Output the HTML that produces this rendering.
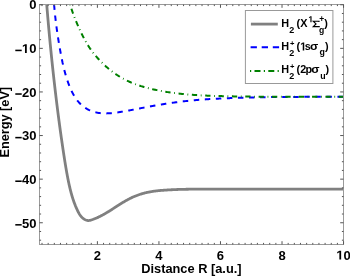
<!DOCTYPE html>
<html><head><meta charset="utf-8"><style>html,body{margin:0;padding:0;background:#fff;width:350px;height:276px;overflow:hidden}svg{display:block;will-change:transform}</style></head>
<body>
<svg width="350" height="276" viewBox="0 0 350 276">
<defs><clipPath id="c"><rect x="39.5" y="4.5" width="304.0" height="240.0"/></clipPath></defs>
<rect width="350" height="276" fill="#fff"/>
<g clip-path="url(#c)" fill="none" stroke-linejoin="round">
<path d="M46.13,-3.00 L46.19,-2.30 L46.24,-1.61 L46.30,-0.91 L46.35,-0.21 L46.41,0.49 L46.46,1.19 L46.52,1.89 L46.57,2.59 L46.63,3.29 L46.69,3.99 L46.74,4.69 L46.80,5.39 L46.86,6.08 L46.91,6.78 L46.97,7.48 L47.03,8.18 L47.09,8.88 L47.14,9.58 L47.20,10.28 L47.26,10.98 L47.32,11.68 L47.38,12.38 L47.44,13.07 L47.49,13.77 L47.55,14.47 L47.61,15.17 L47.67,15.87 L47.73,16.57 L47.79,17.27 L47.85,17.97 L47.91,18.66 L47.97,19.36 L48.03,20.06 L48.10,20.76 L48.16,21.46 L48.22,22.16 L48.28,22.86 L48.34,23.56 L48.40,24.25 L48.47,24.95 L48.53,25.65 L48.59,26.35 L48.65,27.05 L48.72,27.75 L48.78,28.45 L48.84,29.14 L48.91,29.84 L48.97,30.54 L49.03,31.24 L49.10,31.94 L49.16,32.64 L49.23,33.33 L49.29,34.03 L49.36,34.73 L49.42,35.43 L49.49,36.13 L49.55,36.83 L49.62,37.52 L49.68,38.22 L49.75,38.92 L49.82,39.62 L49.88,40.32 L49.95,41.02 L50.02,41.71 L50.08,42.41 L50.15,43.11 L50.22,43.81 L50.29,44.51 L50.36,45.20 L50.42,45.90 L50.49,46.60 L50.56,47.30 L50.63,48.00 L50.70,48.69 L50.77,49.39 L50.84,50.09 L50.91,50.79 L50.98,51.49 L51.05,52.18 L51.12,52.88 L51.19,53.58 L51.26,54.28 L51.33,54.97 L51.40,55.67 L51.47,56.37 L51.54,57.07 L51.62,57.76 L51.69,58.46 L51.76,59.16 L51.83,59.86 L51.90,60.56 L51.98,61.25 L52.05,61.95 L52.12,62.65 L52.20,63.35 L52.27,64.04 L52.34,64.74 L52.42,65.44 L52.49,66.14 L52.57,66.83 L52.64,67.53 L52.72,68.23 L52.79,68.92 L52.87,69.62 L52.94,70.32 L53.02,71.02 L53.09,71.71 L53.17,72.41 L53.25,73.11 L53.32,73.81 L53.40,74.50 L53.48,75.20 L53.55,75.90 L53.63,76.59 L53.71,77.29 L53.79,77.99 L53.86,78.68 L53.94,79.38 L54.02,80.08 L54.10,80.78 L54.18,81.47 L54.26,82.17 L54.34,82.87 L54.42,83.56 L54.50,84.26 L54.58,84.96 L54.66,85.65 L54.74,86.35 L54.82,87.05 L54.90,87.74 L54.98,88.44 L55.06,89.14 L55.14,89.83 L55.22,90.53 L55.31,91.23 L55.39,91.92 L55.47,92.62 L55.55,93.32 L55.64,94.01 L55.72,94.71 L55.80,95.41 L55.89,96.10 L55.97,96.80 L56.05,97.49 L56.14,98.19 L56.22,98.89 L56.31,99.58 L56.39,100.28 L56.48,100.98 L56.56,101.67 L56.65,102.37 L56.73,103.06 L56.82,103.76 L56.91,104.46 L56.99,105.15 L57.08,105.85 L57.17,106.54 L57.25,107.24 L57.34,107.94 L57.43,108.63 L57.52,109.33 L57.60,110.02 L57.69,110.72 L57.78,111.41 L57.87,112.11 L57.96,112.81 L58.05,113.50 L58.14,114.20 L58.23,114.89 L58.32,115.59 L58.41,116.28 L58.50,116.98 L58.59,117.67 L58.68,118.37 L58.77,119.07 L58.86,119.76 L58.95,120.46 L59.05,121.15 L59.14,121.85 L59.23,122.54 L59.32,123.24 L59.42,123.93 L59.51,124.63 L59.60,125.32 L59.70,126.02 L59.79,126.71 L59.89,127.41 L59.98,128.10 L60.08,128.80 L60.17,129.49 L60.27,130.19 L60.36,130.88 L60.46,131.58 L60.56,132.27 L60.65,132.97 L60.75,133.66 L60.85,134.35 L60.94,135.05 L61.04,135.74 L61.14,136.44 L61.24,137.13 L61.34,137.83 L61.44,138.52 L61.54,139.22 L61.64,139.91 L61.73,140.60 L61.84,141.30 L61.94,141.99 L62.04,142.69 L62.14,143.38 L62.24,144.07 L62.34,144.77 L62.44,145.46 L62.54,146.16 L62.65,146.85 L62.75,147.54 L62.85,148.24 L62.96,148.93 L63.06,149.63 L63.16,150.32 L63.27,151.01 L63.37,151.71 L63.48,152.40 L63.58,153.09 L63.69,153.79 L63.79,154.48 L63.90,155.17 L64.01,155.87 L64.11,156.56 L64.22,157.25 L64.33,157.95 L64.44,158.64 L64.54,159.33 L64.65,160.02 L64.76,160.72 L64.87,161.41 L64.98,162.10 L65.09,162.79 L65.21,163.49 L65.32,164.18 L65.43,164.87 L65.55,165.56 L65.66,166.26 L65.78,166.95 L65.89,167.64 L66.01,168.33 L66.13,169.02 L66.25,169.71 L66.37,170.40 L66.49,171.09 L66.61,171.78 L66.73,172.48 L66.86,173.17 L66.98,173.86 L67.11,174.55 L67.24,175.23 L67.37,175.92 L67.50,176.61 L67.63,177.30 L67.76,177.99 L67.90,178.68 L68.04,179.37 L68.17,180.05 L68.31,180.74 L68.45,181.43 L68.59,182.12 L68.74,182.80 L68.89,183.49 L69.03,184.17 L69.18,184.86 L69.34,185.54 L69.49,186.23 L69.65,186.91 L69.81,187.59 L69.97,188.28 L70.13,188.96 L70.30,189.64 L70.47,190.32 L70.64,191.00 L70.82,191.68 L71.00,192.36 L71.18,193.03 L71.37,193.71 L71.56,194.38 L71.75,195.06 L71.95,195.73 L72.15,196.40 L72.35,197.08 L72.56,197.75 L72.77,198.41 L72.99,199.08 L73.21,199.75 L73.43,200.41 L73.66,201.07 L73.89,201.74 L74.13,202.40 L74.37,203.05 L74.62,203.71 L74.87,204.37 L75.13,205.02 L75.39,205.67 L75.65,206.32 L75.93,206.96 L76.20,207.61 L76.48,208.25 L76.77,208.89 L77.06,209.53 L77.36,210.16 L77.66,210.80 L77.97,211.43 L78.29,212.05 L78.62,212.67 L78.96,213.28 L79.32,213.89 L79.69,214.48 L80.08,215.07 L80.49,215.63 L80.92,216.19 L81.38,216.72 L81.86,217.23 L82.36,217.72 L82.89,218.18 L83.44,218.61 L84.02,219.01 L84.62,219.38 L85.24,219.71 L85.88,219.99 L86.54,220.23 L87.21,220.41 L87.91,220.51 L88.61,220.54 L89.31,220.48 L90.00,220.36 L90.68,220.19 L91.35,219.99 L92.01,219.77 L92.68,219.54 L93.33,219.30 L93.99,219.05 L94.64,218.79 L95.29,218.53 L95.94,218.26 L96.58,217.98 L97.22,217.69 L97.86,217.40 L98.50,217.11 L99.13,216.80 L99.76,216.49 L100.39,216.18 L101.01,215.86 L101.63,215.53 L102.25,215.20 L102.87,214.87 L103.48,214.53 L104.09,214.19 L104.70,213.84 L105.31,213.49 L105.92,213.14 L106.52,212.78 L107.12,212.42 L107.72,212.06 L108.32,211.69 L108.92,211.32 L109.51,210.95 L110.11,210.58 L110.70,210.20 L111.29,209.83 L111.88,209.45 L112.47,209.07 L113.06,208.69 L113.65,208.31 L114.24,207.93 L114.83,207.55 L115.42,207.17 L116.01,206.79 L116.60,206.41 L117.19,206.03 L117.78,205.65 L118.37,205.28 L118.96,204.90 L119.55,204.52 L120.15,204.15 L120.74,203.78 L121.34,203.41 L121.94,203.04 L122.53,202.67 L123.13,202.31 L123.74,201.95 L124.34,201.60 L124.95,201.24 L125.55,200.89 L126.16,200.55 L126.78,200.20 L127.39,199.87 L128.01,199.53 L128.63,199.20 L129.25,198.88 L129.87,198.56 L130.50,198.25 L131.13,197.94 L131.77,197.64 L132.40,197.34 L133.04,197.06 L133.68,196.77 L134.33,196.50 L134.97,196.23 L135.62,195.96 L136.28,195.70 L136.93,195.45 L137.59,195.21 L138.25,194.97 L138.91,194.74 L139.57,194.51 L140.24,194.29 L140.91,194.08 L141.58,193.87 L142.25,193.67 L142.92,193.47 L143.60,193.29 L144.28,193.11 L144.96,192.93 L145.64,192.76 L146.32,192.60 L147.00,192.45 L147.69,192.30 L148.37,192.15 L149.06,192.02 L149.75,191.89 L150.44,191.76 L151.13,191.64 L151.83,191.53 L152.52,191.42 L153.21,191.32 L153.91,191.22 L154.60,191.12 L155.30,191.03 L155.99,190.95 L156.69,190.86 L157.39,190.79 L158.08,190.71 L158.78,190.64 L159.48,190.57 L160.18,190.51 L160.88,190.45 L161.58,190.39 L162.27,190.33 L162.97,190.28 L163.67,190.23 L164.37,190.18 L165.07,190.13 L165.77,190.08 L166.47,190.04 L167.17,190.00 L167.87,189.95 L168.57,189.91 L169.27,189.87 L169.97,189.84 L170.67,189.80 L171.37,189.76 L172.07,189.73 L172.77,189.70 L173.48,189.66 L174.18,189.63 L174.88,189.60 L175.58,189.58 L176.28,189.55 L176.98,189.52 L177.68,189.50 L178.38,189.47 L179.08,189.45 L179.78,189.43 L180.48,189.41 L181.19,189.39 L181.89,189.37 L182.59,189.35 L183.29,189.33 L183.99,189.32 L184.69,189.30 L185.39,189.28 L186.09,189.27 L186.79,189.26 L187.50,189.25 L188.20,189.23 L188.90,189.22 L189.60,189.21 L190.30,189.20 L191.00,189.20 L191.70,189.19 L192.40,189.18 L193.11,189.17 L193.81,189.17 L194.51,189.16 L195.21,189.16 L195.91,189.15 L196.61,189.15 L197.31,189.14 L198.02,189.14 L198.72,189.14 L199.42,189.14 L200.12,189.13 L200.82,189.13 L201.52,189.13 L202.22,189.13 L202.92,189.13 L203.63,189.13 L204.33,189.13 L205.03,189.13 L205.73,189.13 L206.43,189.13 L207.13,189.14 L207.83,189.14 L208.54,189.14 L209.24,189.14 L209.94,189.14 L210.64,189.15 L211.34,189.15 L212.04,189.15 L212.74,189.15 L213.45,189.15 L214.15,189.16 L214.85,189.16 L215.55,189.16 L216.25,189.16 L216.95,189.16 L217.65,189.17 L218.35,189.17 L219.06,189.17 L219.76,189.17 L220.46,189.17 L221.16,189.17 L221.86,189.18 L222.56,189.18 L223.26,189.18 L223.97,189.18 L224.67,189.18 L225.37,189.18 L226.07,189.18 L226.77,189.18 L227.47,189.18 L228.17,189.18 L228.87,189.18 L229.58,189.18 L230.28,189.18 L230.98,189.17 L231.68,189.17 L232.38,189.17 L233.08,189.17 L233.78,189.17 L234.49,189.17 L235.19,189.17 L235.89,189.17 L236.59,189.16 L237.29,189.16 L237.99,189.16 L238.69,189.16 L239.39,189.16 L240.10,189.15 L240.80,189.15 L241.50,189.15 L242.20,189.15 L242.90,189.15 L243.60,189.14 L244.30,189.14 L245.01,189.14 L245.71,189.14 L246.41,189.13 L247.11,189.13 L247.81,189.13 L248.51,189.13 L249.21,189.12 L249.92,189.12 L250.62,189.12 L251.32,189.12 L252.02,189.12 L252.72,189.11 L253.42,189.11 L254.12,189.11 L254.82,189.11 L255.53,189.11 L256.23,189.10 L256.93,189.10 L257.63,189.10 L258.33,189.10 L259.03,189.10 L259.73,189.09 L260.44,189.09 L261.14,189.09 L261.84,189.09 L262.54,189.09 L263.24,189.09 L263.94,189.09 L264.64,189.08 L265.34,189.08 L266.05,189.08 L266.75,189.08 L267.45,189.08 L268.15,189.08 L268.85,189.08 L269.55,189.08 L270.25,189.08 L270.96,189.08 L271.66,189.08 L272.36,189.08 L273.06,189.08 L273.76,189.08 L274.46,189.08 L275.16,189.08 L275.86,189.08 L276.57,189.08 L277.27,189.08 L277.97,189.08 L278.67,189.08 L279.37,189.08 L280.07,189.08 L280.77,189.08 L281.48,189.08 L282.18,189.08 L282.88,189.08 L283.58,189.08 L284.28,189.08 L284.98,189.08 L285.68,189.08 L286.39,189.08 L287.09,189.08 L287.79,189.08 L288.49,189.08 L289.19,189.08 L289.89,189.08 L290.59,189.08 L291.29,189.09 L292.00,189.09 L292.70,189.09 L293.40,189.09 L294.10,189.09 L294.80,189.09 L295.50,189.09 L296.20,189.09 L296.91,189.09 L297.61,189.09 L298.31,189.09 L299.01,189.09 L299.71,189.10 L300.41,189.10 L301.11,189.10 L301.81,189.10 L302.52,189.10 L303.22,189.10 L303.92,189.10 L304.62,189.10 L305.32,189.10 L306.02,189.10 L306.72,189.10 L307.43,189.11 L308.13,189.11 L308.83,189.11 L309.53,189.11 L310.23,189.11 L310.93,189.11 L311.63,189.11 L312.34,189.11 L313.04,189.11 L313.74,189.11 L314.44,189.11 L315.14,189.11 L315.84,189.11 L316.54,189.12 L317.24,189.12 L317.95,189.12 L318.65,189.12 L319.35,189.12 L320.05,189.12 L320.75,189.12 L321.45,189.12 L322.15,189.12 L322.86,189.12 L323.56,189.12 L324.26,189.12 L324.96,189.12 L325.66,189.12 L326.36,189.12 L327.06,189.12 L327.76,189.12 L328.47,189.12 L329.17,189.12 L329.87,189.12 L330.57,189.12 L331.27,189.12 L331.97,189.12 L332.67,189.12 L333.38,189.12 L334.08,189.12 L334.78,189.12 L335.48,189.11 L336.18,189.11 L336.88,189.11 L337.58,189.11 L338.29,189.11 L338.99,189.11 L339.69,189.11 L340.39,189.11 L341.09,189.11 L341.79,189.10 L342.49,189.10 L343.19,189.10 L343.90,189.10 L344.60,189.10 L345.30,189.10 L346.00,189.09" stroke="#808080" stroke-width="2.8"/>
<path d="M53.59,-2.99 L53.63,-2.29 L53.68,-1.59 L53.72,-0.89 L53.76,-0.19 L53.81,0.51 L53.86,1.21 L53.91,1.91 L53.96,2.61 L54.01,3.31 L54.06,4.01 L54.12,4.71 L54.17,5.41 L54.23,6.11 L54.29,6.81 L54.35,7.51 L54.41,8.21 L54.47,8.90 L54.53,9.60 L54.60,10.30 L54.66,11.00 L54.73,11.70 L54.80,12.40 L54.87,13.10 L54.94,13.79 L55.01,14.49 L55.08,15.19 L55.16,15.89 L55.23,16.58 L55.31,17.28 L55.39,17.98 L55.47,18.68 L55.55,19.37 L55.63,20.07 L55.71,20.77 L55.80,21.46 L55.88,22.16 L55.97,22.86 L56.05,23.55 L56.14,24.25 L56.23,24.95 L56.32,25.64 L56.41,26.34 L56.50,27.03 L56.60,27.73 L56.69,28.42 L56.79,29.12 L56.88,29.81 L56.98,30.51 L57.08,31.20 L57.18,31.90 L57.28,32.59 L57.38,33.29 L57.48,33.98 L57.58,34.68 L57.69,35.37 L57.79,36.06 L57.90,36.76 L58.01,37.45 L58.12,38.14 L58.23,38.84 L58.34,39.53 L58.45,40.22 L58.56,40.91 L58.67,41.61 L58.78,42.30 L58.90,42.99 L59.01,43.68 L59.13,44.38 L59.25,45.07 L59.37,45.76 L59.48,46.45 L59.60,47.14 L59.72,47.83 L59.85,48.53 L59.97,49.22 L60.09,49.91 L60.22,50.60 L60.34,51.29 L60.47,51.98 L60.59,52.67 L60.72,53.36 L60.85,54.05 L60.98,54.74 L61.11,55.43 L61.24,56.12 L61.37,56.81 L61.51,57.49 L61.64,58.18 L61.78,58.87 L61.92,59.56 L62.06,60.25 L62.21,60.93 L62.35,61.62 L62.50,62.31 L62.64,62.99 L62.80,63.68 L62.95,64.36 L63.10,65.05 L63.26,65.73 L63.42,66.41 L63.58,67.10 L63.75,67.78 L63.91,68.46 L64.08,69.14 L64.25,69.82 L64.43,70.50 L64.61,71.18 L64.79,71.86 L64.97,72.53 L65.16,73.21 L65.35,73.89 L65.54,74.56 L65.74,75.23 L65.94,75.91 L66.14,76.58 L66.34,77.25 L66.55,77.92 L66.77,78.59 L66.98,79.26 L67.20,79.92 L67.43,80.59 L67.65,81.25 L67.88,81.91 L68.12,82.58 L68.36,83.23 L68.60,83.89 L68.85,84.55 L69.10,85.21 L69.35,85.86 L69.61,86.51 L69.88,87.16 L70.15,87.81 L70.42,88.45 L70.70,89.10 L70.99,89.74 L71.28,90.37 L71.58,91.01 L71.89,91.64 L72.20,92.27 L72.52,92.89 L72.85,93.51 L73.18,94.13 L73.52,94.74 L73.87,95.35 L74.23,95.96 L74.60,96.55 L74.98,97.15 L75.36,97.73 L75.75,98.31 L76.16,98.89 L76.57,99.46 L76.99,100.02 L77.42,100.57 L77.86,101.12 L78.31,101.65 L78.77,102.18 L79.25,102.70 L79.73,103.21 L80.22,103.71 L80.72,104.20 L81.24,104.68 L81.76,105.15 L82.29,105.61 L82.83,106.05 L83.38,106.49 L83.94,106.91 L84.51,107.32 L85.09,107.72 L85.68,108.10 L86.27,108.48 L86.87,108.84 L87.48,109.18 L88.10,109.51 L88.73,109.83 L89.36,110.13 L90.00,110.42 L90.65,110.69 L91.30,110.95 L91.96,111.20 L92.62,111.43 L93.29,111.65 L93.96,111.85 L94.63,112.04 L95.31,112.22 L95.99,112.39 L96.68,112.54 L97.37,112.67 L98.06,112.80 L98.75,112.91 L99.45,113.01 L100.14,113.10 L100.84,113.17 L101.54,113.23 L102.24,113.29 L102.94,113.33 L103.64,113.36 L104.34,113.38 L105.04,113.39 L105.74,113.39 L106.45,113.39 L107.15,113.37 L107.85,113.35 L108.55,113.32 L109.25,113.28 L109.95,113.24 L110.65,113.19 L111.35,113.13 L112.05,113.06 L112.75,113.00 L113.44,112.92 L114.14,112.84 L114.84,112.76 L115.53,112.67 L116.23,112.58 L116.93,112.48 L117.62,112.39 L118.31,112.28 L119.01,112.18 L119.70,112.07 L120.39,111.96 L121.09,111.85 L121.78,111.74 L122.47,111.63 L123.16,111.51 L123.86,111.39 L124.55,111.27 L125.24,111.15 L125.93,111.03 L126.62,110.91 L127.31,110.78 L128.00,110.66 L128.69,110.53 L129.38,110.40 L130.07,110.27 L130.76,110.14 L131.45,110.01 L132.14,109.88 L132.83,109.75 L133.52,109.62 L134.21,109.48 L134.90,109.35 L135.58,109.22 L136.27,109.08 L136.96,108.95 L137.65,108.81 L138.34,108.68 L139.03,108.54 L139.72,108.41 L140.41,108.28 L141.09,108.14 L141.78,108.01 L142.47,107.88 L143.16,107.75 L143.85,107.61 L144.54,107.48 L145.23,107.35 L145.92,107.22 L146.61,107.09 L147.30,106.96 L147.99,106.84 L148.68,106.71 L149.37,106.58 L150.06,106.45 L150.75,106.33 L151.44,106.20 L152.13,106.08 L152.82,105.96 L153.51,105.83 L154.20,105.71 L154.89,105.59 L155.58,105.47 L156.28,105.35 L156.97,105.23 L157.66,105.11 L158.35,104.99 L159.04,104.87 L159.73,104.76 L160.43,104.64 L161.12,104.53 L161.81,104.41 L162.50,104.30 L163.20,104.19 L163.89,104.08 L164.58,103.97 L165.28,103.86 L165.97,103.75 L166.66,103.64 L167.36,103.53 L168.05,103.43 L168.74,103.32 L169.44,103.22 L170.13,103.12 L170.82,103.01 L171.52,102.91 L172.21,102.81 L172.91,102.71 L173.60,102.62 L174.30,102.52 L174.99,102.42 L175.69,102.33 L176.38,102.24 L177.08,102.14 L177.78,102.05 L178.47,101.96 L179.17,101.87 L179.86,101.78 L180.56,101.70 L181.26,101.61 L181.95,101.53 L182.65,101.44 L183.35,101.36 L184.04,101.28 L184.74,101.20 L185.44,101.12 L186.14,101.05 L186.83,100.97 L187.53,100.90 L188.23,100.82 L188.93,100.75 L189.62,100.68 L190.32,100.61 L191.02,100.54 L191.72,100.47 L192.42,100.41 L193.12,100.34 L193.82,100.28 L194.51,100.22 L195.21,100.15 L195.91,100.09 L196.61,100.03 L197.31,99.98 L198.01,99.92 L198.71,99.86 L199.41,99.81 L200.11,99.75 L200.81,99.70 L201.51,99.64 L202.21,99.59 L202.91,99.54 L203.61,99.49 L204.31,99.44 L205.01,99.39 L205.71,99.35 L206.41,99.30 L207.11,99.26 L207.81,99.21 L208.51,99.17 L209.21,99.12 L209.91,99.08 L210.61,99.04 L211.31,99.00 L212.01,98.96 L212.71,98.92 L213.41,98.88 L214.11,98.84 L214.81,98.80 L215.51,98.77 L216.21,98.73 L216.92,98.70 L217.62,98.66 L218.32,98.63 L219.02,98.59 L219.72,98.56 L220.42,98.53 L221.12,98.50 L221.82,98.47 L222.52,98.43 L223.22,98.40 L223.92,98.37 L224.63,98.34 L225.33,98.32 L226.03,98.29 L226.73,98.26 L227.43,98.23 L228.13,98.20 L228.83,98.18 L229.53,98.15 L230.23,98.12 L230.94,98.10 L231.64,98.07 L232.34,98.05 L233.04,98.02 L233.74,98.00 L234.44,97.97 L235.14,97.95 L235.84,97.93 L236.55,97.90 L237.25,97.88 L237.95,97.86 L238.65,97.84 L239.35,97.81 L240.05,97.79 L240.75,97.77 L241.46,97.75 L242.16,97.73 L242.86,97.71 L243.56,97.69 L244.26,97.67 L244.96,97.65 L245.66,97.63 L246.37,97.61 L247.07,97.59 L247.77,97.58 L248.47,97.56 L249.17,97.54 L249.87,97.52 L250.57,97.51 L251.28,97.49 L251.98,97.47 L252.68,97.46 L253.38,97.44 L254.08,97.42 L254.78,97.41 L255.48,97.39 L256.19,97.38 L256.89,97.36 L257.59,97.35 L258.29,97.34 L258.99,97.32 L259.69,97.31 L260.40,97.30 L261.10,97.28 L261.80,97.27 L262.50,97.26 L263.20,97.24 L263.90,97.23 L264.60,97.22 L265.31,97.21 L266.01,97.20 L266.71,97.19 L267.41,97.17 L268.11,97.16 L268.81,97.15 L269.52,97.14 L270.22,97.13 L270.92,97.12 L271.62,97.11 L272.32,97.10 L273.02,97.10 L273.73,97.09 L274.43,97.08 L275.13,97.07 L275.83,97.06 L276.53,97.05 L277.23,97.04 L277.94,97.04 L278.64,97.03 L279.34,97.02 L280.04,97.01 L280.74,97.01 L281.44,97.00 L282.15,96.99 L282.85,96.99 L283.55,96.98 L284.25,96.97 L284.95,96.97 L285.65,96.96 L286.36,96.96 L287.06,96.95 L287.76,96.94 L288.46,96.94 L289.16,96.93 L289.86,96.93 L290.57,96.92 L291.27,96.92 L291.97,96.91 L292.67,96.91 L293.37,96.91 L294.07,96.90 L294.78,96.90 L295.48,96.89 L296.18,96.89 L296.88,96.89 L297.58,96.88 L298.28,96.88 L298.99,96.88 L299.69,96.87 L300.39,96.87 L301.09,96.87 L301.79,96.86 L302.49,96.86 L303.20,96.86 L303.90,96.86 L304.60,96.85 L305.30,96.85 L306.00,96.85 L306.70,96.85 L307.41,96.85 L308.11,96.84 L308.81,96.84 L309.51,96.84 L310.21,96.84 L310.91,96.84 L311.62,96.84 L312.32,96.83 L313.02,96.83 L313.72,96.83 L314.42,96.83 L315.12,96.83 L315.83,96.83 L316.53,96.83 L317.23,96.83 L317.93,96.83 L318.63,96.82 L319.33,96.82 L320.04,96.82 L320.74,96.82 L321.44,96.82 L322.14,96.82 L322.84,96.82 L323.54,96.82 L324.25,96.82 L324.95,96.82 L325.65,96.82 L326.35,96.82 L327.05,96.82 L327.75,96.82 L328.46,96.82 L329.16,96.82 L329.86,96.82 L330.56,96.81 L331.26,96.81 L331.96,96.81 L332.67,96.81 L333.37,96.81 L334.07,96.81 L334.77,96.81 L335.47,96.81 L336.17,96.81 L336.88,96.81 L337.58,96.81 L338.28,96.81 L338.98,96.81 L339.68,96.81 L340.38,96.81 L341.09,96.81 L341.79,96.81 L342.49,96.81 L343.19,96.81 L343.89,96.81 L344.59,96.81 L345.30,96.81 L346.00,96.81" stroke="#0000ff" stroke-width="2" stroke-dasharray="5.5 5.56" stroke-dashoffset="3.56"/>
<path d="M68.91,-2.98 L68.99,-2.28 L69.09,-1.59 L69.19,-0.89 L69.30,-0.20 L69.42,0.49 L69.55,1.18 L69.68,1.87 L69.83,2.56 L69.98,3.25 L70.14,3.93 L70.30,4.61 L70.48,5.29 L70.66,5.97 L70.84,6.65 L71.03,7.32 L71.23,8.00 L71.43,8.67 L71.64,9.34 L71.85,10.01 L72.07,10.68 L72.29,11.34 L72.52,12.01 L72.75,12.67 L72.99,13.33 L73.23,13.99 L73.47,14.65 L73.71,15.31 L73.96,15.97 L74.21,16.62 L74.47,17.28 L74.72,17.93 L74.98,18.58 L75.24,19.23 L75.50,19.89 L75.77,20.54 L76.03,21.18 L76.30,21.83 L76.57,22.48 L76.85,23.13 L77.12,23.77 L77.40,24.42 L77.68,25.06 L77.96,25.71 L78.24,26.35 L78.53,26.99 L78.81,27.63 L79.10,28.27 L79.39,28.91 L79.68,29.55 L79.98,30.19 L80.27,30.82 L80.57,31.46 L80.87,32.10 L81.17,32.73 L81.47,33.36 L81.78,33.99 L82.09,34.63 L82.40,35.25 L82.71,35.88 L83.03,36.51 L83.35,37.13 L83.67,37.76 L84.00,38.38 L84.33,39.00 L84.66,39.62 L85.00,40.23 L85.34,40.85 L85.68,41.46 L86.03,42.07 L86.38,42.68 L86.74,43.28 L87.10,43.89 L87.46,44.49 L87.83,45.08 L88.20,45.68 L88.58,46.27 L88.96,46.86 L89.35,47.45 L89.74,48.03 L90.13,48.61 L90.54,49.18 L90.94,49.76 L91.35,50.33 L91.77,50.89 L92.18,51.46 L92.61,52.02 L93.03,52.58 L93.46,53.13 L93.90,53.68 L94.34,54.23 L94.78,54.77 L95.23,55.31 L95.68,55.85 L96.13,56.39 L96.59,56.92 L97.05,57.45 L97.52,57.97 L97.99,58.50 L98.46,59.02 L98.93,59.53 L99.41,60.05 L99.90,60.56 L100.38,61.07 L100.87,61.57 L101.36,62.07 L101.86,62.57 L102.36,63.06 L102.86,63.55 L103.36,64.04 L103.87,64.52 L104.38,65.00 L104.90,65.48 L105.42,65.95 L105.94,66.42 L106.46,66.89 L106.99,67.35 L107.52,67.81 L108.06,68.27 L108.60,68.72 L109.14,69.16 L109.68,69.61 L110.23,70.05 L110.78,70.48 L111.34,70.91 L111.89,71.34 L112.45,71.76 L113.02,72.18 L113.58,72.60 L114.15,73.01 L114.73,73.41 L115.30,73.81 L115.88,74.21 L116.46,74.60 L117.05,74.99 L117.64,75.37 L118.23,75.75 L118.82,76.13 L119.42,76.50 L120.02,76.86 L120.62,77.22 L121.23,77.57 L121.84,77.92 L122.45,78.27 L123.06,78.61 L123.68,78.94 L124.30,79.27 L124.92,79.59 L125.55,79.91 L126.18,80.23 L126.81,80.53 L127.44,80.84 L128.08,81.14 L128.72,81.43 L129.36,81.72 L130.00,82.00 L130.64,82.28 L131.29,82.56 L131.94,82.83 L132.59,83.09 L133.24,83.35 L133.89,83.61 L134.55,83.86 L135.20,84.11 L135.86,84.35 L136.52,84.59 L137.18,84.83 L137.85,85.06 L138.51,85.29 L139.18,85.51 L139.84,85.73 L140.51,85.94 L141.18,86.16 L141.85,86.36 L142.52,86.57 L143.19,86.77 L143.87,86.97 L144.54,87.16 L145.22,87.35 L145.90,87.54 L146.57,87.72 L147.25,87.90 L147.93,88.08 L148.61,88.26 L149.29,88.43 L149.97,88.60 L150.65,88.76 L151.34,88.93 L152.02,89.09 L152.70,89.25 L153.39,89.40 L154.07,89.56 L154.76,89.71 L155.45,89.85 L156.13,90.00 L156.82,90.14 L157.51,90.28 L158.20,90.42 L158.88,90.56 L159.57,90.69 L160.26,90.83 L160.95,90.95 L161.64,91.08 L162.33,91.21 L163.03,91.33 L163.72,91.45 L164.41,91.57 L165.10,91.69 L165.79,91.80 L166.49,91.91 L167.18,92.03 L167.87,92.13 L168.57,92.24 L169.26,92.34 L169.96,92.45 L170.65,92.55 L171.35,92.65 L172.04,92.74 L172.74,92.84 L173.43,92.93 L174.13,93.02 L174.83,93.11 L175.52,93.20 L176.22,93.28 L176.92,93.37 L177.61,93.45 L178.31,93.53 L179.01,93.61 L179.71,93.69 L180.40,93.76 L181.10,93.84 L181.80,93.91 L182.50,93.98 L183.20,94.05 L183.90,94.12 L184.60,94.18 L185.29,94.25 L185.99,94.31 L186.69,94.37 L187.39,94.43 L188.09,94.49 L188.79,94.55 L189.49,94.61 L190.19,94.66 L190.89,94.71 L191.59,94.77 L192.29,94.82 L192.99,94.87 L193.69,94.92 L194.39,94.96 L195.09,95.01 L195.79,95.05 L196.50,95.10 L197.20,95.14 L197.90,95.18 L198.60,95.22 L199.30,95.26 L200.00,95.30 L200.70,95.34 L201.40,95.38 L202.10,95.41 L202.80,95.45 L203.51,95.48 L204.21,95.51 L204.91,95.55 L205.61,95.58 L206.31,95.61 L207.01,95.64 L207.71,95.67 L208.42,95.69 L209.12,95.72 L209.82,95.75 L210.52,95.77 L211.22,95.80 L211.92,95.82 L212.62,95.85 L213.33,95.87 L214.03,95.89 L214.73,95.92 L215.43,95.94 L216.13,95.96 L216.83,95.98 L217.54,96.00 L218.24,96.02 L218.94,96.04 L219.64,96.06 L220.34,96.08 L221.05,96.10 L221.75,96.12 L222.45,96.13 L223.15,96.15 L223.85,96.17 L224.55,96.18 L225.26,96.20 L225.96,96.22 L226.66,96.23 L227.36,96.25 L228.06,96.26 L228.77,96.28 L229.47,96.29 L230.17,96.31 L230.87,96.32 L231.57,96.34 L232.28,96.35 L232.98,96.36 L233.68,96.38 L234.38,96.39 L235.08,96.40 L235.79,96.41 L236.49,96.43 L237.19,96.44 L237.89,96.45 L238.59,96.46 L239.30,96.47 L240.00,96.48 L240.70,96.49 L241.40,96.50 L242.10,96.51 L242.81,96.52 L243.51,96.53 L244.21,96.54 L244.91,96.55 L245.61,96.56 L246.32,96.57 L247.02,96.57 L247.72,96.58 L248.42,96.59 L249.12,96.60 L249.83,96.60 L250.53,96.61 L251.23,96.62 L251.93,96.63 L252.63,96.63 L253.34,96.64 L254.04,96.64 L254.74,96.65 L255.44,96.66 L256.14,96.66 L256.85,96.67 L257.55,96.67 L258.25,96.68 L258.95,96.68 L259.65,96.69 L260.36,96.69 L261.06,96.69 L261.76,96.70 L262.46,96.70 L263.16,96.71 L263.87,96.71 L264.57,96.71 L265.27,96.72 L265.97,96.72 L266.67,96.72 L267.38,96.73 L268.08,96.73 L268.78,96.73 L269.48,96.73 L270.18,96.74 L270.89,96.74 L271.59,96.74 L272.29,96.74 L272.99,96.74 L273.69,96.75 L274.40,96.75 L275.10,96.75 L275.80,96.75 L276.50,96.75 L277.21,96.75 L277.91,96.75 L278.61,96.76 L279.31,96.76 L280.01,96.76 L280.72,96.76 L281.42,96.76 L282.12,96.76 L282.82,96.76 L283.52,96.76 L284.23,96.76 L284.93,96.76 L285.63,96.76 L286.33,96.76 L287.03,96.76 L287.74,96.76 L288.44,96.76 L289.14,96.76 L289.84,96.76 L290.54,96.76 L291.25,96.76 L291.95,96.76 L292.65,96.76 L293.35,96.76 L294.05,96.76 L294.76,96.76 L295.46,96.76 L296.16,96.76 L296.86,96.76 L297.56,96.76 L298.27,96.76 L298.97,96.75 L299.67,96.75 L300.37,96.75 L301.08,96.75 L301.78,96.75 L302.48,96.75 L303.18,96.75 L303.88,96.75 L304.59,96.75 L305.29,96.75 L305.99,96.75 L306.69,96.75 L307.39,96.75 L308.10,96.75 L308.80,96.75 L309.50,96.75 L310.20,96.75 L310.90,96.75 L311.61,96.74 L312.31,96.74 L313.01,96.74 L313.71,96.74 L314.41,96.74 L315.12,96.74 L315.82,96.74 L316.52,96.74 L317.22,96.74 L317.92,96.74 L318.63,96.74 L319.33,96.74 L320.03,96.74 L320.73,96.74 L321.43,96.75 L322.14,96.75 L322.84,96.75 L323.54,96.75 L324.24,96.75 L324.95,96.75 L325.65,96.75 L326.35,96.75 L327.05,96.75 L327.75,96.75 L328.46,96.75 L329.16,96.76 L329.86,96.76 L330.56,96.76 L331.26,96.76 L331.97,96.76 L332.67,96.77 L333.37,96.77 L334.07,96.77 L334.77,96.77 L335.48,96.77 L336.18,96.78 L336.88,96.78 L337.58,96.78 L338.28,96.79 L338.99,96.79 L339.69,96.79 L340.39,96.80 L341.09,96.80 L341.79,96.80 L342.50,96.81 L343.20,96.81 L343.90,96.82 L344.60,96.82 L345.30,96.83 L346.01,96.83" stroke="#008000" stroke-width="2" stroke-dasharray="0.8 3.63 5.3 3.63" stroke-dashoffset="5.84"/>
</g>
<g stroke="#555" stroke-width="1" fill="none">
<rect x="39.5" y="4.5" width="304" height="240" stroke="#9a9a9a"/>
<line x1="42.01" y1="244.5" x2="42.01" y2="242.9"/>
<line x1="42.01" y1="4.5" x2="42.01" y2="6.1"/>
<line x1="48.17" y1="244.5" x2="48.17" y2="242.9"/>
<line x1="48.17" y1="4.5" x2="48.17" y2="6.1"/>
<line x1="54.32" y1="244.5" x2="54.32" y2="242.9"/>
<line x1="54.32" y1="4.5" x2="54.32" y2="6.1"/>
<line x1="60.48" y1="244.5" x2="60.48" y2="242.9"/>
<line x1="60.48" y1="4.5" x2="60.48" y2="6.1"/>
<line x1="66.63" y1="244.5" x2="66.63" y2="242.9"/>
<line x1="66.63" y1="4.5" x2="66.63" y2="6.1"/>
<line x1="72.78" y1="244.5" x2="72.78" y2="242.9"/>
<line x1="72.78" y1="4.5" x2="72.78" y2="6.1"/>
<line x1="78.94" y1="244.5" x2="78.94" y2="242.9"/>
<line x1="78.94" y1="4.5" x2="78.94" y2="6.1"/>
<line x1="85.09" y1="244.5" x2="85.09" y2="242.9"/>
<line x1="85.09" y1="4.5" x2="85.09" y2="6.1"/>
<line x1="91.25" y1="244.5" x2="91.25" y2="242.9"/>
<line x1="91.25" y1="4.5" x2="91.25" y2="6.1"/>
<line x1="97.40" y1="244.5" x2="97.40" y2="241.2"/>
<line x1="97.40" y1="4.5" x2="97.40" y2="7.8"/>
<line x1="103.55" y1="244.5" x2="103.55" y2="242.9"/>
<line x1="103.55" y1="4.5" x2="103.55" y2="6.1"/>
<line x1="109.71" y1="244.5" x2="109.71" y2="242.9"/>
<line x1="109.71" y1="4.5" x2="109.71" y2="6.1"/>
<line x1="115.86" y1="244.5" x2="115.86" y2="242.9"/>
<line x1="115.86" y1="4.5" x2="115.86" y2="6.1"/>
<line x1="122.02" y1="244.5" x2="122.02" y2="242.9"/>
<line x1="122.02" y1="4.5" x2="122.02" y2="6.1"/>
<line x1="128.17" y1="244.5" x2="128.17" y2="242.9"/>
<line x1="128.17" y1="4.5" x2="128.17" y2="6.1"/>
<line x1="134.32" y1="244.5" x2="134.32" y2="242.9"/>
<line x1="134.32" y1="4.5" x2="134.32" y2="6.1"/>
<line x1="140.48" y1="244.5" x2="140.48" y2="242.9"/>
<line x1="140.48" y1="4.5" x2="140.48" y2="6.1"/>
<line x1="146.63" y1="244.5" x2="146.63" y2="242.9"/>
<line x1="146.63" y1="4.5" x2="146.63" y2="6.1"/>
<line x1="152.79" y1="244.5" x2="152.79" y2="242.9"/>
<line x1="152.79" y1="4.5" x2="152.79" y2="6.1"/>
<line x1="158.94" y1="244.5" x2="158.94" y2="241.2"/>
<line x1="158.94" y1="4.5" x2="158.94" y2="7.8"/>
<line x1="165.09" y1="244.5" x2="165.09" y2="242.9"/>
<line x1="165.09" y1="4.5" x2="165.09" y2="6.1"/>
<line x1="171.25" y1="244.5" x2="171.25" y2="242.9"/>
<line x1="171.25" y1="4.5" x2="171.25" y2="6.1"/>
<line x1="177.40" y1="244.5" x2="177.40" y2="242.9"/>
<line x1="177.40" y1="4.5" x2="177.40" y2="6.1"/>
<line x1="183.56" y1="244.5" x2="183.56" y2="242.9"/>
<line x1="183.56" y1="4.5" x2="183.56" y2="6.1"/>
<line x1="189.71" y1="244.5" x2="189.71" y2="242.9"/>
<line x1="189.71" y1="4.5" x2="189.71" y2="6.1"/>
<line x1="195.86" y1="244.5" x2="195.86" y2="242.9"/>
<line x1="195.86" y1="4.5" x2="195.86" y2="6.1"/>
<line x1="202.02" y1="244.5" x2="202.02" y2="242.9"/>
<line x1="202.02" y1="4.5" x2="202.02" y2="6.1"/>
<line x1="208.17" y1="244.5" x2="208.17" y2="242.9"/>
<line x1="208.17" y1="4.5" x2="208.17" y2="6.1"/>
<line x1="214.33" y1="244.5" x2="214.33" y2="242.9"/>
<line x1="214.33" y1="4.5" x2="214.33" y2="6.1"/>
<line x1="220.48" y1="244.5" x2="220.48" y2="241.2"/>
<line x1="220.48" y1="4.5" x2="220.48" y2="7.8"/>
<line x1="226.63" y1="244.5" x2="226.63" y2="242.9"/>
<line x1="226.63" y1="4.5" x2="226.63" y2="6.1"/>
<line x1="232.79" y1="244.5" x2="232.79" y2="242.9"/>
<line x1="232.79" y1="4.5" x2="232.79" y2="6.1"/>
<line x1="238.94" y1="244.5" x2="238.94" y2="242.9"/>
<line x1="238.94" y1="4.5" x2="238.94" y2="6.1"/>
<line x1="245.10" y1="244.5" x2="245.10" y2="242.9"/>
<line x1="245.10" y1="4.5" x2="245.10" y2="6.1"/>
<line x1="251.25" y1="244.5" x2="251.25" y2="242.9"/>
<line x1="251.25" y1="4.5" x2="251.25" y2="6.1"/>
<line x1="257.40" y1="244.5" x2="257.40" y2="242.9"/>
<line x1="257.40" y1="4.5" x2="257.40" y2="6.1"/>
<line x1="263.56" y1="244.5" x2="263.56" y2="242.9"/>
<line x1="263.56" y1="4.5" x2="263.56" y2="6.1"/>
<line x1="269.71" y1="244.5" x2="269.71" y2="242.9"/>
<line x1="269.71" y1="4.5" x2="269.71" y2="6.1"/>
<line x1="275.87" y1="244.5" x2="275.87" y2="242.9"/>
<line x1="275.87" y1="4.5" x2="275.87" y2="6.1"/>
<line x1="282.02" y1="244.5" x2="282.02" y2="241.2"/>
<line x1="282.02" y1="4.5" x2="282.02" y2="7.8"/>
<line x1="288.17" y1="244.5" x2="288.17" y2="242.9"/>
<line x1="288.17" y1="4.5" x2="288.17" y2="6.1"/>
<line x1="294.33" y1="244.5" x2="294.33" y2="242.9"/>
<line x1="294.33" y1="4.5" x2="294.33" y2="6.1"/>
<line x1="300.48" y1="244.5" x2="300.48" y2="242.9"/>
<line x1="300.48" y1="4.5" x2="300.48" y2="6.1"/>
<line x1="306.64" y1="244.5" x2="306.64" y2="242.9"/>
<line x1="306.64" y1="4.5" x2="306.64" y2="6.1"/>
<line x1="312.79" y1="244.5" x2="312.79" y2="242.9"/>
<line x1="312.79" y1="4.5" x2="312.79" y2="6.1"/>
<line x1="318.94" y1="244.5" x2="318.94" y2="242.9"/>
<line x1="318.94" y1="4.5" x2="318.94" y2="6.1"/>
<line x1="325.10" y1="244.5" x2="325.10" y2="242.9"/>
<line x1="325.10" y1="4.5" x2="325.10" y2="6.1"/>
<line x1="331.25" y1="244.5" x2="331.25" y2="242.9"/>
<line x1="331.25" y1="4.5" x2="331.25" y2="6.1"/>
<line x1="337.41" y1="244.5" x2="337.41" y2="242.9"/>
<line x1="337.41" y1="4.5" x2="337.41" y2="6.1"/>
<line x1="343.56" y1="244.5" x2="343.56" y2="241.2"/>
<line x1="343.56" y1="4.5" x2="343.56" y2="7.8"/>
<line x1="39.5" y1="4.75" x2="42.8" y2="4.75"/>
<line x1="343.5" y1="4.75" x2="340.2" y2="4.75"/>
<line x1="39.5" y1="13.47" x2="41.1" y2="13.47"/>
<line x1="343.5" y1="13.47" x2="341.9" y2="13.47"/>
<line x1="39.5" y1="22.19" x2="41.1" y2="22.19"/>
<line x1="343.5" y1="22.19" x2="341.9" y2="22.19"/>
<line x1="39.5" y1="30.91" x2="41.1" y2="30.91"/>
<line x1="343.5" y1="30.91" x2="341.9" y2="30.91"/>
<line x1="39.5" y1="39.63" x2="41.1" y2="39.63"/>
<line x1="343.5" y1="39.63" x2="341.9" y2="39.63"/>
<line x1="39.5" y1="48.35" x2="42.8" y2="48.35"/>
<line x1="343.5" y1="48.35" x2="340.2" y2="48.35"/>
<line x1="39.5" y1="57.07" x2="41.1" y2="57.07"/>
<line x1="343.5" y1="57.07" x2="341.9" y2="57.07"/>
<line x1="39.5" y1="65.79" x2="41.1" y2="65.79"/>
<line x1="343.5" y1="65.79" x2="341.9" y2="65.79"/>
<line x1="39.5" y1="74.51" x2="41.1" y2="74.51"/>
<line x1="343.5" y1="74.51" x2="341.9" y2="74.51"/>
<line x1="39.5" y1="83.23" x2="41.1" y2="83.23"/>
<line x1="343.5" y1="83.23" x2="341.9" y2="83.23"/>
<line x1="39.5" y1="91.95" x2="42.8" y2="91.95"/>
<line x1="343.5" y1="91.95" x2="340.2" y2="91.95"/>
<line x1="39.5" y1="100.67" x2="41.1" y2="100.67"/>
<line x1="343.5" y1="100.67" x2="341.9" y2="100.67"/>
<line x1="39.5" y1="109.39" x2="41.1" y2="109.39"/>
<line x1="343.5" y1="109.39" x2="341.9" y2="109.39"/>
<line x1="39.5" y1="118.11" x2="41.1" y2="118.11"/>
<line x1="343.5" y1="118.11" x2="341.9" y2="118.11"/>
<line x1="39.5" y1="126.83" x2="41.1" y2="126.83"/>
<line x1="343.5" y1="126.83" x2="341.9" y2="126.83"/>
<line x1="39.5" y1="135.55" x2="42.8" y2="135.55"/>
<line x1="343.5" y1="135.55" x2="340.2" y2="135.55"/>
<line x1="39.5" y1="144.27" x2="41.1" y2="144.27"/>
<line x1="343.5" y1="144.27" x2="341.9" y2="144.27"/>
<line x1="39.5" y1="152.99" x2="41.1" y2="152.99"/>
<line x1="343.5" y1="152.99" x2="341.9" y2="152.99"/>
<line x1="39.5" y1="161.71" x2="41.1" y2="161.71"/>
<line x1="343.5" y1="161.71" x2="341.9" y2="161.71"/>
<line x1="39.5" y1="170.43" x2="41.1" y2="170.43"/>
<line x1="343.5" y1="170.43" x2="341.9" y2="170.43"/>
<line x1="39.5" y1="179.15" x2="42.8" y2="179.15"/>
<line x1="343.5" y1="179.15" x2="340.2" y2="179.15"/>
<line x1="39.5" y1="187.87" x2="41.1" y2="187.87"/>
<line x1="343.5" y1="187.87" x2="341.9" y2="187.87"/>
<line x1="39.5" y1="196.59" x2="41.1" y2="196.59"/>
<line x1="343.5" y1="196.59" x2="341.9" y2="196.59"/>
<line x1="39.5" y1="205.31" x2="41.1" y2="205.31"/>
<line x1="343.5" y1="205.31" x2="341.9" y2="205.31"/>
<line x1="39.5" y1="214.03" x2="41.1" y2="214.03"/>
<line x1="343.5" y1="214.03" x2="341.9" y2="214.03"/>
<line x1="39.5" y1="222.75" x2="42.8" y2="222.75"/>
<line x1="343.5" y1="222.75" x2="340.2" y2="222.75"/>
<line x1="39.5" y1="231.47" x2="41.1" y2="231.47"/>
<line x1="343.5" y1="231.47" x2="341.9" y2="231.47"/>
<line x1="39.5" y1="240.19" x2="41.1" y2="240.19"/>
<line x1="343.5" y1="240.19" x2="341.9" y2="240.19"/>
</g>
<g font-family="Liberation Sans" font-weight="bold" font-size="13" fill="#000">
<text x="97.40" y="259.6" text-anchor="middle">2</text>
<text x="158.94" y="259.6" text-anchor="middle">4</text>
<text x="220.48" y="259.6" text-anchor="middle">6</text>
<text x="282.02" y="259.6" text-anchor="middle">8</text>
<path transform="translate(336.33,259.60) scale(0.006348,-0.006348)" d="M478,0L478,1170L140,959L140,1180L493,1409L759,1409L759,0Z"/>
<text x="343.56" y="259.6">0</text>
<text x="36.4" y="9.00" text-anchor="end">0</text>
<path transform="translate(21.95,53.10) scale(0.006348,-0.006348)" d="M478,0L478,1170L140,959L140,1180L493,1409L759,1409L759,0Z"/>
<text x="36.4" y="53.10" text-anchor="end">0</text>
<rect x="15.3" y="49.65" width="6.4" height="1.55"/>
<text x="36.4" y="96.70" text-anchor="end">20</text>
<rect x="15.3" y="93.25" width="6.4" height="1.55"/>
<text x="36.4" y="140.30" text-anchor="end">30</text>
<rect x="15.3" y="136.85" width="6.4" height="1.55"/>
<text x="36.4" y="183.90" text-anchor="end">40</text>
<rect x="15.3" y="180.45" width="6.4" height="1.55"/>
<text x="36.4" y="227.50" text-anchor="end">50</text>
<rect x="15.3" y="224.05" width="6.4" height="1.55"/>
<text transform="translate(191.4,273.4) scale(0.986,1)" text-anchor="middle">Distance R [a.u.]</text>
<text transform="translate(8.9,122.2) rotate(-90) scale(0.978,1)" text-anchor="middle">Energy [eV]</text>
</g>
<g>
<rect x="245.4" y="10.5" width="87.5" height="73" fill="#fff" stroke="#999" stroke-width="1"/>
<line x1="250.9" y1="24.1" x2="277.8" y2="24.1" stroke="#808080" stroke-width="2.8"/>
<line x1="250.6" y1="47.3" x2="279.5" y2="47.3" stroke="#0000ff" stroke-width="2" stroke-dasharray="6.3 4.8"/>
<line x1="250" y1="70.9" x2="279.5" y2="70.9" stroke="#008000" stroke-width="2" stroke-dasharray="1.2 3.3 6 3.3" stroke-dashoffset="0"/>
</g>
<g font-family="Liberation Sans" font-weight="bold" fill="#000">
<text transform="translate(281.25,26.95) scale(0.93,1)" font-size="11.7">H</text>
<text transform="translate(289.20,32.75) scale(1.0,1)" font-size="9">2</text>
<text transform="translate(296.60,26.95) scale(0.93,1)" font-size="11.7">(</text>
<text transform="translate(300.30,26.95) scale(0.93,1)" font-size="11.7">X</text>
<path transform="translate(308.40,22.20) scale(0.004150,-0.004150)" d="M478,0L478,1170L140,959L140,1180L493,1409L759,1409L759,0Z"/>
<path d="M319.0,21.9 L319.0,21.2 L313.3,21.2 L316.0,23.9 L313.3,26.6 L319.2,26.6 L319.2,25.9" fill="none" stroke="#000" stroke-width="1.15"/>
<text transform="translate(319.20,22.10) scale(1.0,1)" font-size="8.5">+</text>
<text transform="translate(319.00,33.00) scale(1.0,1)" font-size="8.6">g</text>
<text transform="translate(324.25,26.95) scale(0.93,1)" font-size="11.7">)</text>
<text transform="translate(281.25,50.45) scale(0.93,1)" font-size="11.7">H</text>
<text transform="translate(289.95,46.35) scale(1.0,1)" font-size="7.6">+</text>
<text transform="translate(289.20,56.00) scale(1.0,1)" font-size="9">2</text>
<text transform="translate(296.60,50.45) scale(0.93,1)" font-size="11.7">(</text>
<path transform="translate(300.20,50.45) scale(0.005313,-0.005713)" d="M478,0L478,1170L140,959L140,1180L493,1409L759,1409L759,0Z"/>
<text transform="translate(304.80,50.45) scale(0.93,1)" font-size="11.7">s</text>
<text transform="translate(281.25,73.45) scale(0.93,1)" font-size="11.7">H</text>
<text transform="translate(289.95,69.35) scale(1.0,1)" font-size="7.6">+</text>
<text transform="translate(289.20,79.00) scale(1.0,1)" font-size="9">2</text>
<text transform="translate(296.60,73.45) scale(0.93,1)" font-size="11.7">(</text>
<text transform="translate(300.20,73.45) scale(0.93,1)" font-size="11.7">2</text>
<text transform="translate(305.55,73.45) scale(0.93,1)" font-size="11.7">p</text>
<text transform="translate(310.10,50.45) scale(1.03,1)" font-size="11.7">&#963;</text>
<text transform="translate(319.60,55.45) scale(1.0,1)" font-size="8.8">g</text>
<text transform="translate(324.90,50.45) scale(0.93,1)" font-size="11.7">)</text>
<text transform="translate(311.20,73.45) scale(1.03,1)" font-size="11.7">&#963;</text>
<text transform="translate(320.30,78.55) scale(1.0,1)" font-size="8.8">u</text>
<text transform="translate(325.40,73.45) scale(0.93,1)" font-size="11.7">)</text>
</g>
</svg>
</body></html>
